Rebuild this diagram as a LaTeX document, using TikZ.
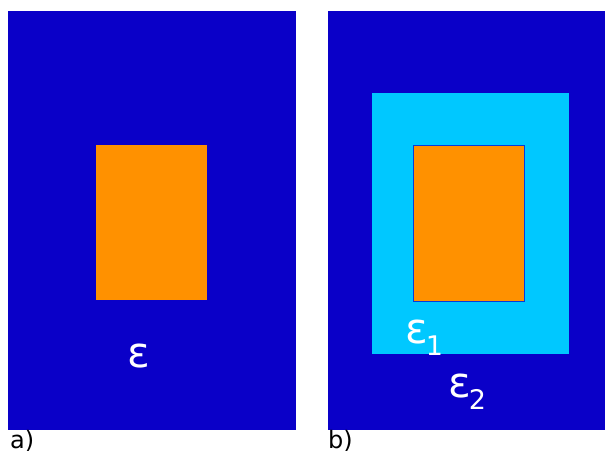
\documentclass[tikz,border=0pt]{standalone}
\usepackage{fontspec}
\setmainfont{DejaVu Sans}
\definecolor{dblue}{RGB}{10,0,200}
\definecolor{lcyan}{RGB}{0,200,255}
\definecolor{orng}{RGB}{255,145,0}
\newcommand{\mysub}[1]{\kern-2pt\raisebox{-0.3em}{\fontsize{27}{27}\selectfont #1}}
\begin{document}
\begin{tikzpicture}[x=1pt,y=-1pt,
  eps/.style={text=white,font=\fontsize{42}{42}\selectfont,inner sep=0pt},
  lab/.style={text=black,font=\fontsize{24}{24}\selectfont,inner sep=0pt,anchor=base west}]
\useasboundingbox (0,0) rectangle (605,450);
\fill[white] (0,0) rectangle (605,450);
% panel a
\fill[dblue] (8,11) rectangle (296,430);
\fill[orng] (96,145) rectangle (207,300);
\node[eps,anchor=base] (ea) at (139,367) {ε};
\node[lab] (la) at (10,448) {a)};
% panel b
\fill[dblue] (328,11) rectangle (605,430);
\fill[lcyan] (372,93) rectangle (569,354);
\filldraw[fill=orng,draw=dblue!70!lcyan,line width=1pt] (413,145) rectangle (524,301);
\node[eps,anchor=base west] (e1) at (405,343) {ε\mysub{1}};
\node[eps,anchor=base west] (e2) at (448,397) {ε\mysub{2}};
\node[lab] (lb) at (328,448) {b)};
\end{tikzpicture}
\end{document}
